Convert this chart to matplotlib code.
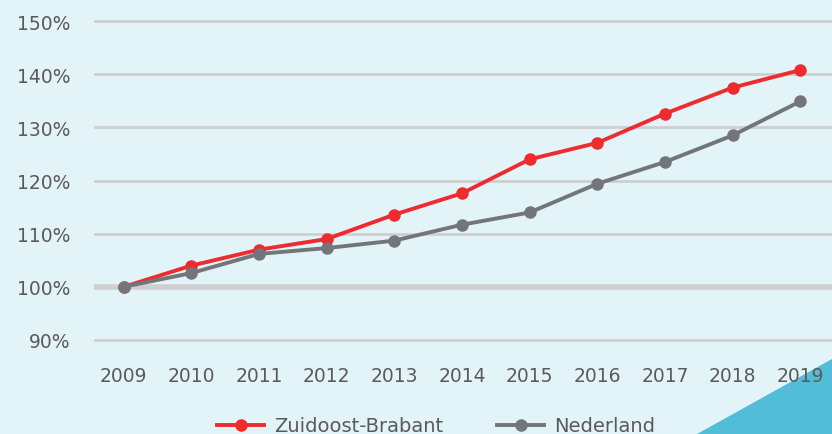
import matplotlib.pyplot as plt
from matplotlib.patches import Polygon

# Data (index, 2009 = 100%)
years = [2009, 2010, 2011, 2012, 2013, 2014, 2015, 2016, 2017, 2018, 2019]
zob = [100, 104.0, 107.0, 109.0, 113.6, 117.6, 124.0, 127.1, 132.6, 137.5, 140.8]
nl = [100, 102.6, 106.2, 107.3, 108.7, 111.7, 114.0, 119.4, 123.5, 128.5, 134.9]
yticks = [90, 100, 110, 120, 130, 140, 150]

bg = '#e3f4f9'
red = '#ee2b2f'
grey = '#72767a'
txt = '#5a5a5a'

plt.rcParams['font.family'] = ['DejaVu Sans']

fig = plt.figure(figsize=(8.32, 4.35), dpi=100)
fig.patch.set_facecolor(bg)

# teal corner triangle
tri = Polygon([[697 / 832, 0], [1, 75 / 435], [1, 0]], closed=True,
              transform=fig.transFigure, facecolor='#52bdd8', edgecolor='none', zorder=-1)
fig.patches.append(tri)

ax = fig.add_axes([94 / 832, 1 - 350 / 435, 738 / 832, 340 / 435])
ax.set_facecolor('none')
ax.set_xlim(2008.56, 2019.47)
ax.set_ylim(88.3, 152.3)

for v in yticks:
    ax.axhline(v, color='#cfcfcf', lw=4 if v == 100 else 2, zorder=1)

ax.plot(years, zob, color=red, lw=2.8, marker='o', ms=8, zorder=3, label='Zuidoost-Brabant')
ax.plot(years, nl, color=grey, lw=2.8, marker='o', ms=8, zorder=3, label='Nederland')

ax.set_yticks(yticks)
ax.set_yticklabels([f'{v}%' for v in yticks])
ax.set_xticks(years)
ax.set_xticklabels([str(y) for y in years])
ax.tick_params(length=0, labelsize=13.5, colors=txt)
ax.tick_params(axis='y', pad=17)
ax.tick_params(axis='x', pad=12)
for s in ax.spines.values():
    s.set_visible(False)

fig.legend(loc='center', bbox_to_anchor=(436 / 832, 1 - 427 / 435), ncol=2, frameon=False,
           fontsize=14, labelcolor=txt, handlelength=2.4, columnspacing=2.8, handletextpad=0.5)

fig.savefig('out.png', dpi=100, facecolor=bg)
